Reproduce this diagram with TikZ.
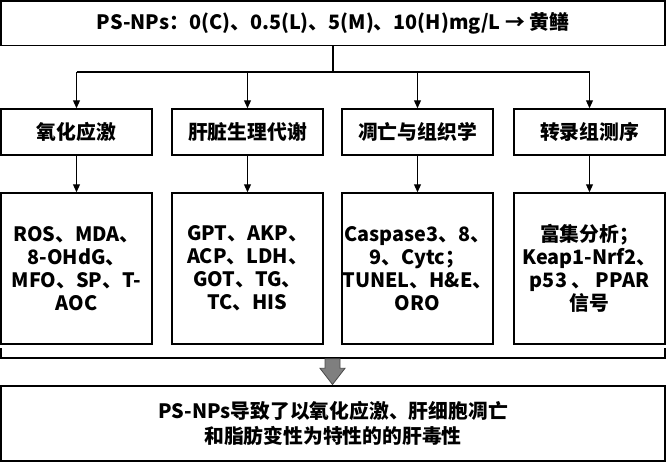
\documentclass[tikz,border=0pt]{standalone}
\usepackage{fontspec}
\setmainfont{Noto Sans CJK SC}
\usetikzlibrary{arrows.meta,calc}
\definecolor{arrowgray}{HTML}{7F7F7F}
\definecolor{arrowedge}{HTML}{4A4A4A}
\begin{document}
\begin{tikzpicture}[x=1pt,y=-1pt,
  box/.style={draw=black,line width=1.5pt,inner sep=0pt,align=center,
    font=\fontsize{19.8}{23}\selectfont\bfseries},
  conn/.style={draw=black,line width=1.1pt},
  arr/.style={conn,-{Triangle[length=8pt,width=7pt]}},
  ]
\useasboundingbox (0,0) rectangle (667,463);
% top
\node[box,minimum width=664pt,minimum height=44.5pt] (top) at (333,23.2)
  {PS-NPs：0(C)、0.5(L)、5(M)、10(H)mg/L → 黄鳝};
% row 2
\node[box,minimum width=151pt,minimum height=46pt] (a1) at (76.5,132) {氧化应激};
\node[box,minimum width=151pt,minimum height=46pt] (a2) at (247.5,132) {肝脏生理代谢};
\node[box,minimum width=151pt,minimum height=46pt] (a3) at (417.5,132) {凋亡与组织学};
\node[box,minimum width=151pt,minimum height=46pt] (a4) at (589.5,132) {转录组测序};
% row 3
\node[box,minimum width=151pt,minimum height=151pt] (b1) at (76.5,268.5)
  {ROS、MDA、\\8-OHdG、\\MFO、SP、T-\\AOC};
\node[box,minimum width=151pt,minimum height=151pt] (b2) at (247.5,268.5)
  {GPT、AKP、\\ACP、LDH、\\GOT、TG、\\TC、HIS};
\node[box,minimum width=151pt,minimum height=151pt] (b3) at (417.5,268.5)
  {Caspase3、8、\\9、Cytc；\\TUNEL、H\&E、\\ORO};
\node[box,minimum width=151pt,minimum height=151pt] (b4) at (589.5,268.5)
  {富集分析；\\Keap1-Nrf2、\\p53 、 PPAR\\信号};
% bottom
\node[box,minimum width=664pt,minimum height=75pt,
  font=\fontsize{19.8}{25}\selectfont\bfseries] (bot) at (333,423.7)
  {PS-NPs导致了以氧化应激、肝细胞凋亡\\和脂肪变性为特性的的肝毒性};
% connectors
\coordinate (j) at (333,72);
\draw[conn] (top.south) -- (top.south |- j);
\draw[conn] (a1.north |- j) -- (a4.north |- j);
\foreach \i in {1,2,3,4}{
  \draw[arr] (a\i.north |- j) -- (a\i.north);
  \draw[arr] (a\i.south) -- (b\i.north);
}
% bracket
\coordinate (brl) at (1,348);
\coordinate (brr) at (665,348);
\coordinate (bry) at (0,358);
\draw[conn,line width=1.5pt] (brl) -- (brl |- bry) -- (brr |- bry) -- (brr);
% gray block arrow
\coordinate (ga) at (332.5,358.8);
\filldraw[fill=arrowgray,draw=arrowedge,line width=0.8pt]
  ($(ga)+(-7.5,0)$) -- ($(ga)+(7.5,0)$) -- ($(ga)+(7.5,9.5)$) -- ($(ga)+(12.5,9.5)$)
  -- ($(ga)+(0,25.7)$) -- ($(ga)+(-12.5,9.5)$) -- ($(ga)+(-7.5,9.5)$) -- cycle;
\end{tikzpicture}
\end{document}
